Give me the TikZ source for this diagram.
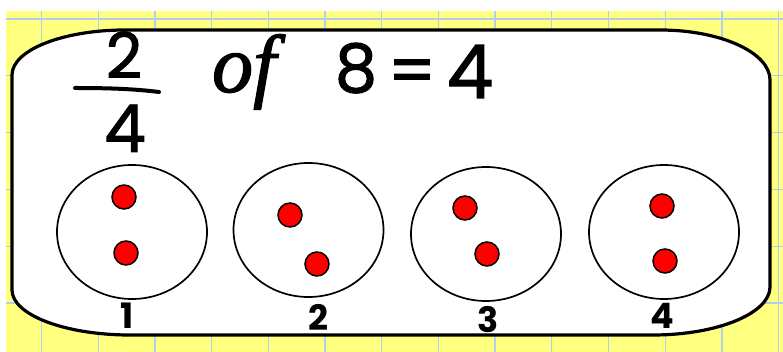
\documentclass[tikz,border=0pt]{standalone}
\usepackage{fontspec}
\usetikzlibrary{shapes.geometric}
\newfontfamily\handfont{Poppins}[FakeBold=1.5]
\newfontfamily\labelfont{Poppins}
\newfontfamily\offont{Liberation Serif}[FakeBold=1.5]
\definecolor{padyellow}{HTML}{FFFF80}
\definecolor{gridblue}{HTML}{B4CCEE}
\definecolor{dotred}{HTML}{FF0000}
\tikzset{
  gridline/.style={gridblue, line width=1.3pt},
  board/.style={draw=black, fill=white, line width=3.2pt, line join=round},
  group/.style={draw=black, ellipse, line width=1.7pt, minimum width=150pt, minimum height=134pt, inner sep=0pt},
  counter/.style={draw=black, fill=dotred, circle, line width=1.5pt, minimum size=24pt, inner sep=0pt},
  bigtext/.style={inner sep=0pt, anchor=base, font=\handfont\fontsize{#1}{#1}\selectfont},
  lbl/.style={inner sep=0pt, anchor=base, font=\labelfont\bfseries\fontsize{35}{35}\selectfont},
}
\begin{document}
\begin{tikzpicture}[x=1pt,y=-1pt]
\useasboundingbox (0,0) rectangle (783,352);
\fill[white] (0,0) rectangle (783,352);
\fill[padyellow] (6,11) rectangle (783,352);
\foreach \k in {0,...,13} \draw[gridline] ({41.5+56.7*\k},11) -- ({41.5+56.7*\k},352);
\foreach \k in {0,...,5} \draw[gridline] (6,{19+56.8*\k}) -- (783,{19+56.8*\k});
% board
\draw[board] (125,30) -- (660,30) .. controls (720.5,30) and (770,52.5) .. (770,80)
  -- (770,287) .. controls (770,313.4) and (717,335) .. (653,335)
  -- (130,335) .. controls (65,335) and (12,314.8) .. (12,290)
  -- (12,75) .. controls (12,50) and (63,30) .. (125,30) -- cycle;
% title
\node[bigtext=63] (num) at (124,78) {2};
\coordinate (barL) at (75,88);
\coordinate (barR) at (159,92);
\draw[line width=4pt, line cap=round] (barL) .. controls (110,88) and (135,89) .. (barR);
\node[bigtext=66] (den) at (125,152) {4};
\node[inner sep=0pt, anchor=base, font=\offont\itshape\fontsize{82}{82}\selectfont] (of) at (244,92) {of};
\node[bigtext=67] (eight) at (356,92) {8};
\node[bigtext=67] (eq) at (412,94) {=};
\node[bigtext=74] (ans) at (470,98) {4};
% groups
\node[group] (g1) at (132,232) {};
\node[group] (g2) at (308.5,230) {};
\node[group] (g3) at (486,234) {};
\node[group] (g4) at (664,232) {};
% counters
\node[counter] (d11) at (124,197) {};
\node[counter] (d12) at (126,253) {};
\node[counter] (d21) at (290,215) {};
\node[counter] (d22) at (317,264) {};
\node[counter] (d31) at (465,208) {};
\node[counter] (d32) at (487,254) {};
\node[counter] (d41) at (662,206) {};
\node[counter] (d42) at (665,261) {};
% labels
\node[lbl] (l1) at (127,328) {1};
\node[lbl] (l2) at (318.5,330) {2};
\node[lbl] (l3) at (488,332) {3};
\node[lbl] (l4) at (662,328) {4};
\end{tikzpicture}
\end{document}
